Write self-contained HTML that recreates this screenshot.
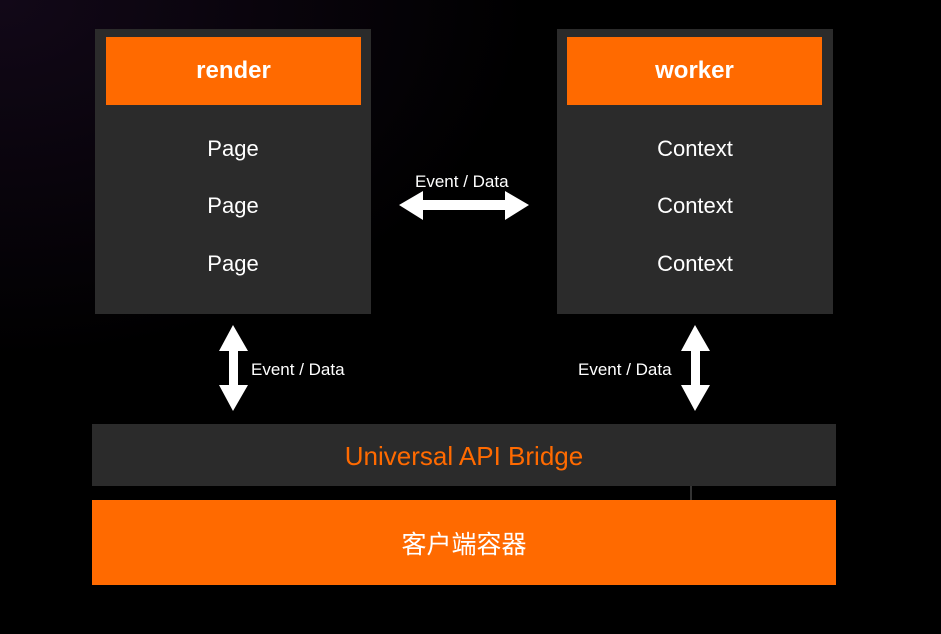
<!DOCTYPE html>
<html><head><meta charset="utf-8"><style>
html,body{margin:0;padding:0;background:#000;}
body{width:941px;height:634px;overflow:hidden;position:relative;font-family:"Liberation Sans","Noto Sans CJK SC",sans-serif;}
.bg{position:absolute;inset:0;background:radial-gradient(ellipse at 0% 0%,#120818 0%,#000 40%);}
.box{position:absolute;background:#2b2b2b;}
.or{position:absolute;background:#ff6a00;color:#fff;display:flex;align-items:center;justify-content:center;}
.t{position:absolute;color:#fff;font-size:22px;text-align:center;}
.s{position:absolute;color:#fff;font-size:17px;}
</style></head><body>
<div class="bg"></div>
<div class="box" style="left:95px;top:29px;width:276px;height:285px"></div>
<div class="or" style="left:106px;top:37px;width:255px;height:68px;font-size:24px;font-weight:bold">render</div>
<div class="t" style="left:95px;width:276px;top:136px">Page</div>
<div class="t" style="left:95px;width:276px;top:193px">Page</div>
<div class="t" style="left:95px;width:276px;top:251px">Page</div>
<div class="box" style="left:557px;top:29px;width:276px;height:285px"></div>
<div class="or" style="left:567px;top:37px;width:255px;height:68px;font-size:24px;font-weight:bold">worker</div>
<div class="t" style="left:557px;width:276px;top:136px">Context</div>
<div class="t" style="left:557px;width:276px;top:193px">Context</div>
<div class="t" style="left:557px;width:276px;top:251px">Context</div>
<div class="s" style="left:415px;top:172px">Event / Data</div>
<div class="s" style="left:251px;top:360px">Event / Data</div>
<div class="s" style="left:578px;top:360px">Event / Data</div>
<svg style="position:absolute;left:0;top:0" width="941" height="634">
<polygon fill="#fff" points="399,205 423,191 423,200 505,200 505,191 529,205 505,220 505,210 423,210 423,220"/>
<polygon fill="#fff" points="233,325 248,351 238,351 238,385 248,385 233,411 219,385 229,385 229,351 219,351"/>
<polygon fill="#fff" points="695,325 710,351 700,351 700,385 710,385 695,411 681,385 691,385 691,351 681,351"/>
<line x1="691" y1="478" x2="691" y2="506" stroke="#666" stroke-width="1"/>
</svg>
<div class="box" style="left:92px;top:424px;width:744px;height:62px;display:flex;align-items:center;justify-content:center;color:#ff6a00;font-size:26px;padding-top:2px;box-sizing:border-box">Universal API Bridge</div>
<div class="or" style="left:92px;top:500px;width:744px;height:85px;font-size:25px">客户端容器</div>
</body></html>
